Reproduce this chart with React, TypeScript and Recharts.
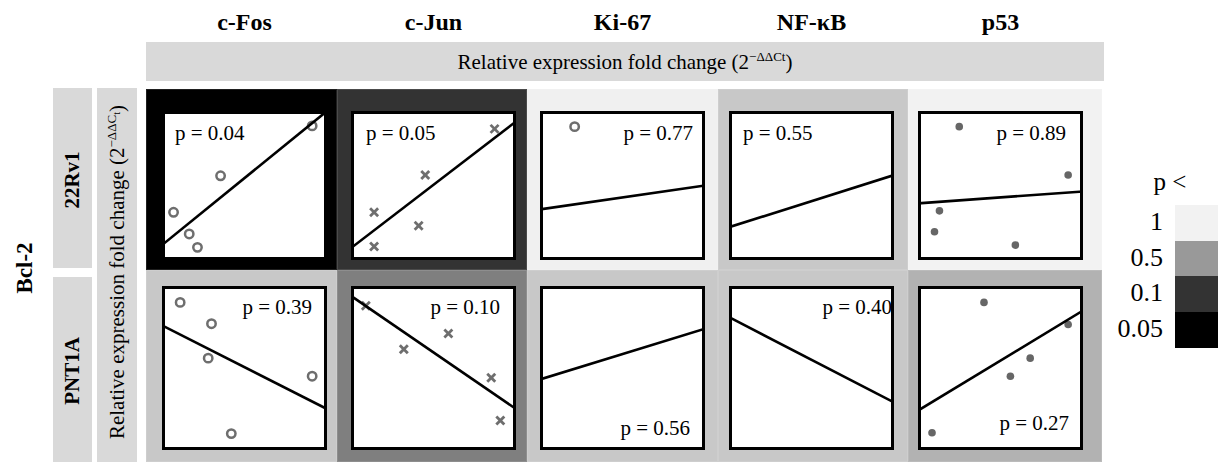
import React from 'react';
import { ScatterChart, Scatter, XAxis, YAxis } from 'recharts';

const genes = ['c-Fos', 'c-Jun', 'Ki-67', 'NF-κB', 'p53'];
const cellLines = ['22Rv1', 'PNT1A'];
const pValues22Rv1 = [0.04, 0.05, 0.77, 0.55, 0.89];
const pValuesPNT1A = [0.39, 0.1, 0.56, 0.4, 0.27];
const legendLevels = ['1', '0.5', '0.1', '0.05'];

// points in relative units (0-100) inside each panel
const fos22Rv1 = [{ x: 91, y: 90 }, { x: 35.5, y: 56.5 }, { x: 7, y: 32 }, { x: 16.5, y: 17.5 }, { x: 21.5, y: 8.5 }];
const jun22Rv1 = [{ x: 87, y: 88 }, { x: 45, y: 57 }, { x: 14, y: 32 }, { x: 41, y: 23 }, { x: 14, y: 9 }];
const ki6722Rv1 = [{ x: 21, y: 89.5 }];
const nfkb22Rv1: { x: number; y: number }[] = [];
const p5322Rv1 = [{ x: 25, y: 89.5 }, { x: 91, y: 57 }, { x: 13, y: 33 }, { x: 10, y: 19 }, { x: 59, y: 10 }];

const fosPNT1A = [{ x: 11, y: 90 }, { x: 30, y: 77 }, { x: 28, y: 56 }, { x: 91, y: 45 }, { x: 42, y: 10 }];
const junPNT1A = [{ x: 9, y: 88 }, { x: 59, y: 71 }, { x: 32, y: 61.5 }, { x: 85, y: 44 }, { x: 90.5, y: 18 }];
const ki67PNT1A: { x: number; y: number }[] = [];
const nfkbPNT1A: { x: number; y: number }[] = [];
const p53PNT1A = [{ x: 40, y: 90 }, { x: 91, y: 76.5 }, { x: 68, y: 56 }, { x: 56, y: 45 }, { x: 8.5, y: 10.5 }];

// fitted line: value at left edge, value at right edge
const fit22Rv1 = [[10, 100], [8, 93], [34, 50], [22, 57], [38, 46]];
const fitPNT1A = [[76, 25], [94, 25], [43, 74], [81, 29], [24, 85]];

const points = [
  [fos22Rv1, jun22Rv1, ki6722Rv1, nfkb22Rv1, p5322Rv1],
  [fosPNT1A, junPNT1A, ki67PNT1A, nfkbPNT1A, p53PNT1A],
];
const fits = [fit22Rv1, fitPNT1A];
const pValues = [pValues22Rv1, pValuesPNT1A];

// styling / layout
const FONT = "'Liberation Serif', 'Times New Roman', serif";
const markers = ['circle', 'cross', 'circle', 'circle', 'dot'];
const tileFill = [
  ['#000000', '#333333', '#f0f0f0', '#c8c8c8', '#f2f2f2'],
  ['#c8c8c8', '#7f7f7f', '#c8c8c8', '#c8c8c8', '#b2b2b2'],
];
const legendFill = ['#f2f2f2', '#999999', '#333333', '#000000'];
const tileLeft = [146, 337, 527, 718, 908, 1102];
const tileTop = [89, 270, 462];
const boxLeft = [162, 351, 540, 729, 918];
const boxTop = [111, 286];
const boxW = 165;
const boxH = [149, 164];
// where the p label sits: [side, vertical, offset-x, offset-y(center)]
const labelPos: [string, string, number, number][][] = [
  [['l', 't', 13, 22], ['l', 't', 15, 22], ['r', 't', 12, 22], ['l', 't', 14, 22], ['r', 't', 17, 22]],
  [['r', 't', 15, 21], ['r', 't', 16, 21], ['r', 'b', 15, 22], ['r', 't', 2, 21], ['r', 'b', 14, 27]],
];

const MARK = '#6e6e6e';

const OpenCircle = (props: any) => (
  <circle cx={props.cx} cy={props.cy} r={4.2} fill="none" stroke={MARK} strokeWidth={2.5} />
);
const Cross = (props: any) => (
  <g stroke={MARK} strokeWidth={2.8}>
    <line x1={props.cx - 4} y1={props.cy - 4} x2={props.cx + 4} y2={props.cy + 4} />
    <line x1={props.cx - 4} y1={props.cy + 4} x2={props.cx + 4} y2={props.cy - 4} />
  </g>
);
const Dot = (props: any) => <circle cx={props.cx} cy={props.cy} r={3.8} fill="#666" />;
const Empty = () => <g />;

const shapeFor = (m: string) => (m === 'cross' ? Cross : m === 'dot' ? Dot : OpenCircle);

const Panel = ({ r, c }: { r: number; c: number }) => {
  const w = boxW;
  const h = boxH[r];
  const fit = fits[r][c];
  const lineData = [{ x: 0, y: fit[0] }, { x: 100, y: fit[1] }];
  const [side, vert, dx, dy] = labelPos[r][c];
  const labelStyle: React.CSSProperties = {
    position: 'absolute',
    fontSize: 21,
    fontFamily: FONT,
    lineHeight: '24px',
    whiteSpace: 'nowrap',
    transform: 'translateY(-50%)',
  };
  if (side === 'l') labelStyle.left = dx;
  else labelStyle.right = dx;
  if (vert === 't') labelStyle.top = dy;
  else labelStyle.top = h - dy;
  return (
    <div style={{ position: 'absolute', left: boxLeft[c], top: boxTop[r], width: w, height: h, background: '#fff' }}>
      <ScatterChart width={w} height={h} margin={{ top: 0, right: 0, bottom: 0, left: 0 }}>
        <XAxis type="number" dataKey="x" domain={[0, 100]} hide allowDataOverflow />
        <YAxis type="number" dataKey="y" domain={[0, 100]} hide allowDataOverflow />
        <Scatter data={points[r][c]} shape={shapeFor(markers[c])} isAnimationActive={false} />
        <Scatter
          data={lineData}
          line={{ stroke: '#000', strokeWidth: 2.6 }}
          shape={Empty}
          isAnimationActive={false}
        />
      </ScatterChart>
      <div style={labelStyle}>p = {pValues[r][c].toFixed(2)}</div>
      <div
        style={{
          position: 'absolute',
          left: 0,
          top: 0,
          width: w,
          height: h,
          boxSizing: 'border-box',
          border: '3px solid #000',
          pointerEvents: 'none',
        }}
      />
    </div>
  );
};

const Rotated = ({ x, y, children, style }: any) => (
  <div
    style={{
      position: 'absolute',
      left: x,
      top: y,
      transform: 'translate(-50%, -50%) rotate(-90deg)',
      whiteSpace: 'nowrap',
      fontFamily: FONT,
      ...style,
    }}
  >
    {children}
  </div>
);

const AxisTitle = ({ sub }: { sub: boolean }) => (
  <span>
    Relative expression fold change (2
    <sup style={{ fontSize: 13 }}>
      −ΔΔC{sub ? <sub style={{ fontSize: 10 }}>t</sub> : 't'}
    </sup>
    )
  </span>
);

export default function App() {
  return (
    <div
      style={{
        position: 'absolute',
        left: 0,
        top: 0,
        width: 1218,
        height: 462,
        background: '#fff',
        overflow: 'hidden',
        fontFamily: FONT,
        color: '#000',
      }}
    >
      {genes.map((g, c) => (
        <div
          key={g}
          style={{
            position: 'absolute',
            left: boxLeft[c] + boxW / 2,
            top: 22,
            transform: 'translate(-50%, -50%)',
            fontSize: 24,
            fontWeight: 'bold',
            whiteSpace: 'nowrap',
          }}
        >
          {g}
        </div>
      ))}
      <div
        style={{
          position: 'absolute',
          left: 146,
          top: 42,
          width: 958,
          height: 39,
          background: '#d9d9d9',
          display: 'flex',
          alignItems: 'center',
          justifyContent: 'center',
          fontSize: 21,
        }}
      >
        <AxisTitle sub={false} />
      </div>

      {/* side strips */}
      <div style={{ position: 'absolute', left: 53, top: 88, width: 39, height: 180, background: '#d9d9d9' }} />
      <div style={{ position: 'absolute', left: 53, top: 277, width: 39, height: 185, background: '#d9d9d9' }} />
      <div style={{ position: 'absolute', left: 97, top: 88, width: 40, height: 374, background: '#d9d9d9' }} />
      <Rotated x={72} y={180} style={{ fontSize: 21, fontWeight: 'bold' }}>
        {cellLines[0]}
      </Rotated>
      <Rotated x={72} y={371} style={{ fontSize: 21, fontWeight: 'bold' }}>
        {cellLines[1]}
      </Rotated>
      <Rotated x={25} y={268} style={{ fontSize: 23, fontWeight: 'bold' }}>
        Bcl-2
      </Rotated>
      <Rotated x={117} y={272} style={{ fontSize: 21 }}>
        <AxisTitle sub={true} />
      </Rotated>

      {/* tiles */}
      {[0, 1].map((r) =>
        genes.map((g, c) => (
          <div
            key={`t${r}${c}`}
            style={{
              position: 'absolute',
              left: tileLeft[c],
              top: tileTop[r],
              width: tileLeft[c + 1] - tileLeft[c],
              height: tileTop[r + 1] - tileTop[r],
              background: tileFill[r][c],
              boxSizing: 'border-box',
              border: '1px solid rgba(255,255,255,0.12)',
            }}
          />
        ))
      )}
      {[0, 1].map((r) => genes.map((g, c) => <Panel key={`p${r}${c}`} r={r} c={c} />))}

      {/* legend */}
      <div
        style={{
          position: 'absolute',
          left: 1170,
          top: 182,
          transform: 'translate(-50%, -50%)',
          fontSize: 25,
          whiteSpace: 'nowrap',
        }}
      >
        p &lt;
      </div>
      {legendLevels.map((lv, i) => (
        <React.Fragment key={lv}>
          <div
            style={{
              position: 'absolute',
              left: 1175,
              top: 205 + i * 35.7,
              width: 43,
              height: 36,
              background: legendFill[i],
            }}
          />
          <div
            style={{
              position: 'absolute',
              right: 1218 - 1163,
              top: 222 + i * 35.5,
              transform: 'translateY(-50%)',
              fontSize: 26,
              lineHeight: '30px',
            }}
          >
            {lv}
          </div>
        </React.Fragment>
      ))}
    </div>
  );
}
